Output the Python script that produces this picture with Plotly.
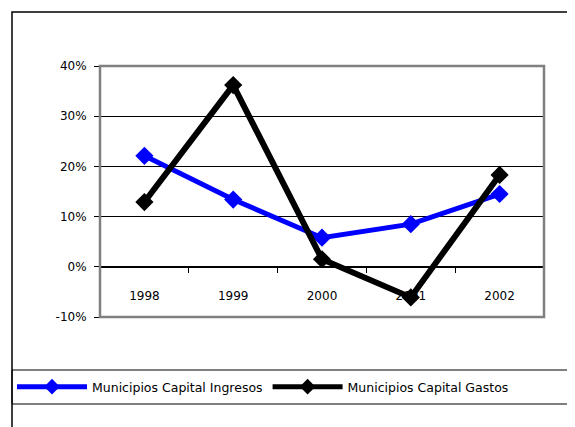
import plotly.graph_objects as go

years = ["1998", "1999", "2000", "2001", "2002"]
ingresos = [0.221, 0.134, 0.058, 0.085, 0.145]
gastos = [0.129, 0.362, 0.015, -0.061, 0.183]
y_ticks = [-0.1, 0.0, 0.1, 0.2, 0.3, 0.4]
y_tick_labels = ["-10%", "0%", "10%", "20%", "30%", "40%"]

W, H = 575, 427
OFF = 8  # page body margin
# plot area in screen pixels: x 100..544, y 66..317
L = 100 - OFF
T = 66 - OFF
pw, ph = 444, 251
R = W - L - pw
B = H - T - ph

def fx(sx):
    return (sx - OFF - L) / pw

def fy(sy):
    return (T + ph - (sy - OFF)) / ph

FAM = "DejaVu Sans, Liberation Sans, Arial, sans-serif"
font = dict(family=FAM, size=12, color="#000000")

fig = go.Figure()
fig.add_trace(go.Scatter(
    x=years, y=ingresos, name="Municipios Capital Ingresos",
    mode="lines+markers",
    line=dict(color="#0000FF", width=5),
    marker=dict(symbol="diamond", size=14, color="#0000FF"),
))
fig.add_trace(go.Scatter(
    x=years, y=gastos, name="Municipios Capital Gastos",
    mode="lines+markers",
    line=dict(color="#000000", width=6),
    marker=dict(symbol="diamond", size=14, color="#000000"),
))

shapes = [
    # outer chart border
    dict(type="rect", xref="paper", yref="paper",
         x0=fx(12), x1=fx(600), y0=fy(450), y1=fy(12),
         line=dict(color="#000000", width=1.5), layer="below"),
    # plot area border
    dict(type="rect", xref="paper", yref="paper",
         x0=0, x1=1, y0=0, y1=1,
         line=dict(color="#808080", width=2.5), layer="above"),
    # legend box
    dict(type="rect", xref="paper", yref="paper",
         x0=fx(12), x1=fx(572), y0=fy(404), y1=fy(370),
         line=dict(color="#000000", width=1), layer="below"),
]

fig.update_layout(
    width=W, height=H,
    margin=dict(l=L, r=R, t=T, b=B, autoexpand=False),
    paper_bgcolor="white", plot_bgcolor="white",
    font=font,
    showlegend=True,
    legend=dict(orientation="h", x=fx(12), xanchor="left",
                y=fy(387), yanchor="middle",
                font=dict(family=FAM, size=12.5, color="#000"),
                itemwidth=70, itemsizing="constant",
                bgcolor="rgba(0,0,0,0)", tracegroupgap=0),
    shapes=shapes,
    xaxis=dict(
        type="category", range=[-0.5, 4.5], anchor="free", position=0.2,
        showline=True, linecolor="#000000", linewidth=1,
        ticks="outside", tickson="boundaries", ticklen=5, tickcolor="#000",
        ticklabelstandoff=18, showgrid=False, zeroline=False,
        automargin=False,
    ),
    yaxis=dict(
        range=[-0.1, 0.4], tickvals=y_ticks, ticktext=y_tick_labels,
        showgrid=True, gridcolor="#000000", gridwidth=1,
        zeroline=False, showline=False,
        ticks="outside", ticklen=5, tickcolor="#000",
        ticklabelstandoff=5, automargin=False,
    ),
)

fig.write_html("out.html")
